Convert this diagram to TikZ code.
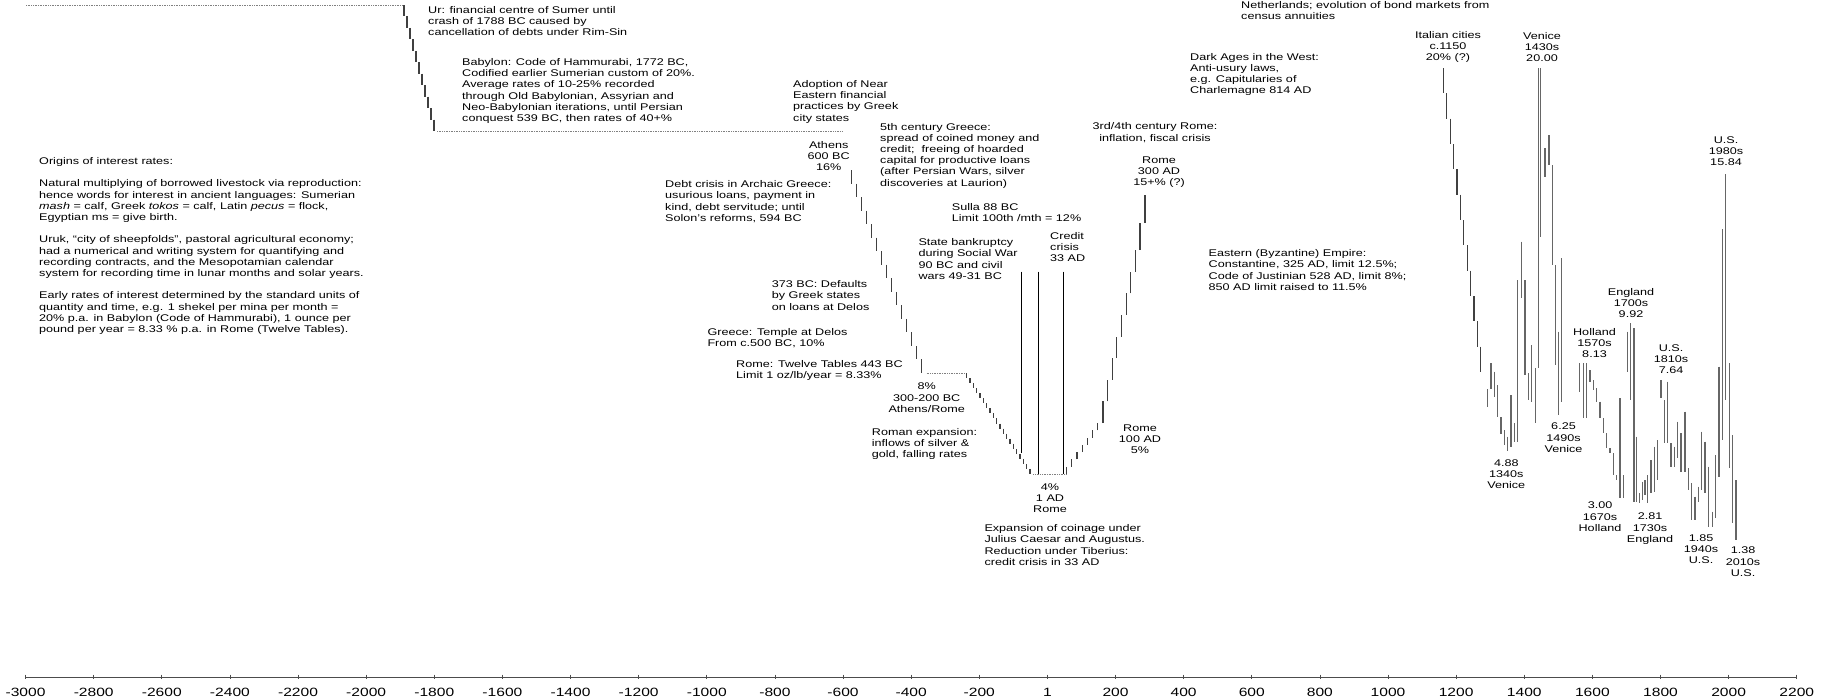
\documentclass[tikz,border=0pt]{standalone}
\usepackage{fontspec}
\setmainfont{Liberation Sans}[FakeStretch=1.3]
\newcommand{\lblfont}{\fontsize{9.7}{11.2}\selectfont}
\newcommand{\axfont}{\fontsize{12}{14}\selectfont}
\tikzset{lbl/.style={inner sep=0pt, anchor=north west, align=left,
  font=\lblfont},
  num/.style={inner sep=0pt, anchor=north, align=center, font=\lblfont}}
% staircase of short vertical ticks: x0, y0, x1, y1, steps
\newcommand{\stairs}[5]{\foreach \k in {1,...,#5}{
  \draw[stairtick] ({#1+(#3-#1)*(\k-1)/#5},{#2+(#4-#2)*(\k-1)/#5})
    -- ({#1+(#3-#1)*(\k-1)/#5},{#2+(#4-#2)*\k/#5});}}

\begin{document}
\begin{tikzpicture}[x=1pt, y=-1pt,
  stairtick/.style={line width=1.2pt, black!75},
  bar/.style={line width=1.4pt, black!60},
  dots/.style={densely dotted, line width=0.7pt, black!50},
  crisis/.style={line width=0.9pt, black}]
  \useasboundingbox (0,0) rectangle (1828,699);

  % Mesopotamia
  \draw[dots] (26,5) -- (404,5);
  \stairs{404}{5}{437}{131}{11}
  \draw[dots] (437,131) -- (842,131);
  % Greece and Rome
  \stairs{851.7}{170}{926.7}{373}{15}
  \draw[dots] (926.7,373) -- (966.7,373);
  \stairs{966.7}{373}{1033.3}{474}{20}
  \draw[dots] (1033.3,474) -- (1066.7,474);
  \stairs{1066.7}{474}{1103}{423}{7}
  \stairs{1103}{423}{1140}{250}{8}
  \stairs{1140}{250}{1150}{195}{2}
  \draw[crisis] (1021.7,271.7) -- (1021.7,453);
  \draw[crisis] (1038.3,271.7) -- (1038.3,474);
  \draw[crisis] (1063.3,271.7) -- (1063.3,474);
  % Italian cities, Venice, Holland, England, U.S.
  \stairs{1443.3}{68}{1484.1}{372}{12}
  \foreach \x/\a/\b in {1487.7/389/407, 1491/363/389, 1494.3/371.7/396.7,
    1497.7/385/417.3, 1501/417.3/434, 1504.3/430/445, 1507.7/436.7/450.7,
    1511/395/446.7, 1514.3/423.3/441.7, 1517.7/280/441.7,
    1521.7/241.7/298.3, 1525/280/375, 1528.3/373.3/400, 1531.3/345/401.7,
    1535.7/368.3/423.3, 1538.3/68.3/368.3, 1540.7/68.3/236.7,
    1545/148.3/176.7, 1549/135/165, 1552.7/165/265, 1555.7/265/365,
    1558.3/331.7/415, 1561.7/258.3/401.7,
    1579.3/363.3/391.7, 1583.3/363.3/418.3, 1586.7/363.3/418.3,
    1590/370/381.7, 1593.3/380/390, 1596.7/388.3/401.7, 1600/401.7/418.3,
    1603.3/418.3/433.3, 1606.7/433.3/448.3, 1610/448.3/453.3,
    1613.3/453.3/475, 1616.7/475/480, 1620/398.3/498.3, 1623.3/475/498.3,
    1627.3/331.7/371.7, 1630.7/323.3/400, 1634/328.3/501.7,
    1636.7/436.7/501.7, 1639.3/493/503, 1642.7/481.7/500, 1645/480/495,
    1647.7/475/503.3, 1651/460/493.3, 1654.3/446.7/491.7, 1657.7/440/480,
    1661/380/398.3, 1664.3/400/443.3, 1667.7/381.7/443.3,
    1671/443.3/466.7, 1674.3/446.7/466.7, 1677.7/421.7/458.3,
    1681/433.3/471.7, 1685/411.7/471.7, 1688.3/468.3/490,
    1691.7/483.3/520, 1695/496.7/520, 1698.3/486.7/501.7,
    1701.7/431.7/490, 1705/441.7/493.3, 1708.3/466.7/526.7,
    1712.3/511.7/526.7, 1715.7/455/518.3, 1719/366.7/476.7,
    1722.3/229/440, 1725.7/174/400, 1729.3/363.3/468.3,
    1732.7/435/523.3, 1736/480/540}
    \draw[bar] (\x,\a) -- (\x,\b);

  % Time axis
  \draw[line width=0.8pt, black!70] (25.6,677) -- (1796.7,677);
  \foreach \yr in {-3000,-2800,...,2200}{
    \draw[line width=0.8pt, black!70] ({1047.4+0.3406*\yr},674.5)
      -- ({1047.4+0.3406*\yr},679);
    \node[inner sep=0pt, font=\axfont] (yr\yr) at ({1047.4+0.3406*\yr},692.7)
      {\ifnum\yr=0 1\else\yr\fi};
  }

  % Notes
  \node[lbl] (ur) at (428,6.2) {Ur: financial centre of Sumer until\\
    crash of 1788 BC caused by\\cancellation of debts under Rim-Sin};
  \node[lbl] (babylon) at (462,58.2) {Babylon: Code of Hammurabi, 1772 BC,\\
    Codified earlier Sumerian custom of 20\%.\\
    Average rates of 10-25\% recorded\\
    through Old Babylonian, Assyrian and\\
    Neo-Babylonian iterations, until Persian\\
    conquest 539 BC, then rates of 40+\%};
  \node[lbl] (origins) at (39,157.2) {Origins of interest rates:\\[11.2pt]
    Natural multiplying of borrowed livestock via reproduction:\\
    hence words for interest in ancient languages: Sumerian\\
    \textit{mash} = calf, Greek \textit{tokos} = calf,
    Latin \textit{pecus} = flock,\\
    Egyptian ms = give birth.\\[11.2pt]
    Uruk, “city of sheepfolds”, pastoral agricultural economy;\\
    had a numerical and writing system for quantifying and\\
    recording contracts, and the Mesopotamian calendar\\
    system for recording time in lunar months and solar years.\\[11.2pt]
    Early rates of interest determined by the standard units of\\
    quantity and time, e.g. 1 shekel per mina per month =\\
    20\% p.a. in Babylon (Code of Hammurabi), 1 ounce per\\
    pound per year = 8.33 \% p.a. in Rome (Twelve Tables).};
  \node[lbl] (adoption) at (793,80.2) {Adoption of Near\\Eastern financial\\
    practices by Greek\\city states};
  \node[num] (athens) at (828.7,141.2) {Athens\\600 BC\\16\%};
  \node[lbl] (debt) at (665,180.5) {Debt crisis in Archaic Greece:\\
    usurious loans, payment in\\kind, debt servitude; until\\
    Solon’s reforms, 594 BC};
  \node[lbl] (greece5) at (880,122.9) {5th century Greece:\\
    spread of coined money and\\credit;\ \ freeing of hoarded\\
    capital for productive loans\\(after Persian Wars, silver\\
    discoveries at Laurion)};
  \node[num] (rome34) at (1155,122.7) {3rd/4th century Rome:\\
    inflation, fiscal crisis};
  \node[num] (rome300) at (1159,156.2) {Rome\\300 AD\\15+\% (?)};
  \node[lbl] (sulla) at (951.7,202.9) {Sulla 88 BC\\Limit 100th /mth = 12\%};
  \node[lbl] (bankrupt) at (918.3,238.5) {State bankruptcy\\
    during Social War\\90 BC and civil\\wars 49-31 BC};
  \node[lbl] (credit) at (1050,232.2) {Credit\\crisis\\33 AD};
  \node[lbl] (delos373) at (771.7,280.5) {373 BC: Defaults\\by Greek states\\
    on loans at Delos};
  \node[lbl] (temple) at (707.3,328.2) {Greece: Temple at Delos\\
    From c.500 BC, 10\%};
  \node[lbl] (tables) at (736,360.5) {Rome: Twelve Tables 443 BC\\
    Limit 1 oz/lb/year = 8.33\%};
  \node[num] (eight) at (926.7,382.9) {8\%\\300-200 BC\\Athens/Rome};
  \node[lbl] (expansion) at (871.7,428.2) {Roman expansion:\\
    inflows of silver \&\\gold, falling rates};
  \node[num] (four) at (1050,483.5) {4\%\\1 AD\\Rome};
  \node[lbl] (coinage) at (984.3,524.5) {Expansion of coinage under\\
    Julius Caesar and Augustus.\\Reduction under Tiberius:\\
    credit crisis in 33 AD};
  \node[num] (rome100) at (1140,424.5) {Rome\\100 AD\\5\%};
  \node[lbl] (eastern) at (1208.5,249.5) {Eastern (Byzantine) Empire:\\
    Constantine, 325 AD, limit 12.5\%;\\
    Code of Justinian 528 AD, limit 8\%;\\
    850 AD limit raised to 11.5\%};
  \node[lbl] (darkages) at (1190,52.9) {Dark Ages in the West:\\
    Anti-usury laws,\\e.g. Capitularies of\\Charlemagne 814 AD};
  \node[lbl] (bonds) at (1241,1.5) {Netherlands; evolution of bond markets from\\
    census annuities};

  % Peaks and troughs
  \node[num] (italy) at (1448,31.2) {Italian cities\\c.1150\\20\% (?)};
  \node[num] (ven1430) at (1542,31.9) {Venice\\1430s\\20.00};
  \node[num] (us1980) at (1726,136.2) {U.S.\\1980s\\15.84};
  \node[num] (eng1700) at (1631,287.9) {England\\1700s\\9.92};
  \node[num] (hol1570) at (1594.5,327.9) {Holland\\1570s\\8.13};
  \node[num] (us1810) at (1671,344.5) {U.S.\\1810s\\7.64};
  \node[num] (ven1490) at (1563.5,422.9) {6.25\\1490s\\Venice};
  \node[num] (ven1340) at (1506.3,459.5) {4.88\\1340s\\Venice};
  \node[num] (hol1670) at (1600,502) {3.00\\1670s\\Holland};
  \node[num] (eng1730) at (1650,512.9) {2.81\\1730s\\England};
  \node[num] (us1940) at (1701,534.5) {1.85\\1940s\\U.S.};
  \node[num] (us2010) at (1743,547) {1.38\\2010s\\U.S.};
\end{tikzpicture}
\end{document}
